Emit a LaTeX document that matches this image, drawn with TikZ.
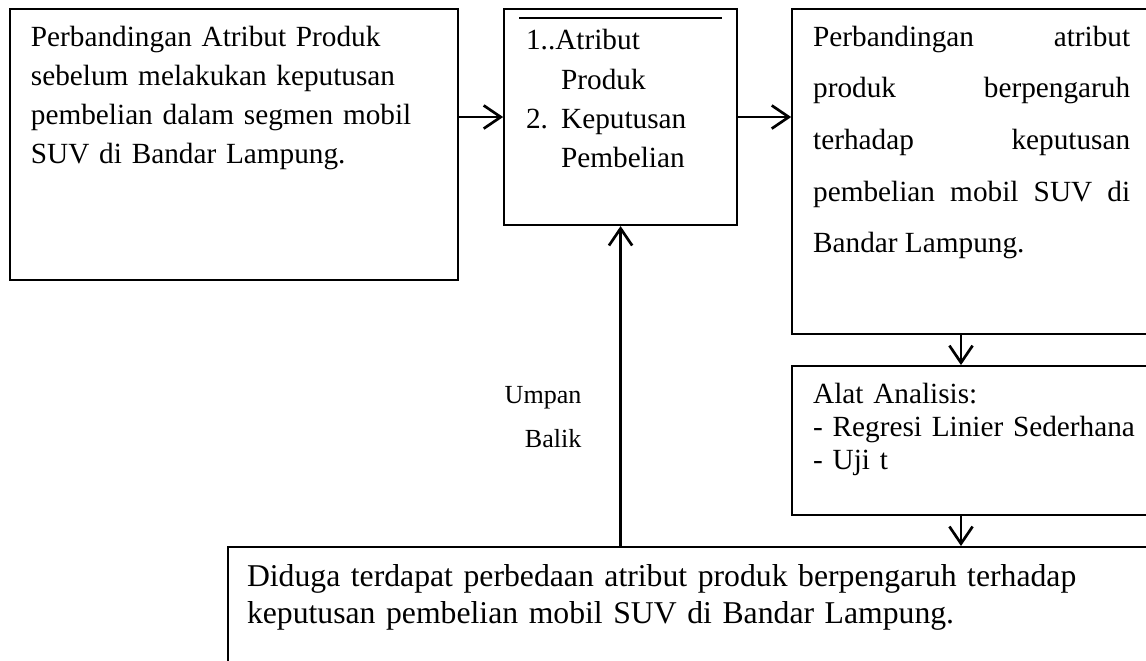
\documentclass[tikz,border=0pt]{standalone}
\usepackage{fontspec}
\setmainfont{Liberation Serif}
\usetikzlibrary{arrows.meta,positioning}

\begin{document}
\begin{tikzpicture}[
    x=0.41pt, y=-0.41pt,
    box/.style={draw, line width=0.8pt, anchor=north west, align=left,
                inner ysep=0pt, inner xsep=8.6pt,
                font=\fontsize{12}{16}\selectfont},
    flow/.style={-{Straight Barb[length=7pt,width=9.5pt]}, line width=1.1pt},
  ]
    \path[use as bounding box] (0,0) rectangle (1146,661);
    \clip (0,0) rectangle (1146,661);

    % ---- top row ----
    \node[box, text width=166.5pt, text height=15.2pt, text depth=95.9pt] (lft) at (9,8)
        {Perbandingan Atribut Produk sebelum melakukan keputusan pembelian dalam segmen mobil SUV di Bandar Lampung.};
    \node[box, right=18.1pt of lft.north east, anchor=north west, inner xsep=9pt,
          text width=77.5pt, text height=16.8pt, text depth=71.8pt,
          font=\fontsize{12}{16.1}\selectfont] (mid)
        {1..Atribut\\\hspace*{14.4pt}Produk\\\makebox[14.4pt][l]{2.}Keputusan\\\hspace*{14.4pt}Pembelian};
    \node[box, right=21.8pt of mid.north east, anchor=north west, align=justify,
          text width=130pt, text height=15.2pt, text depth=118.1pt,
          font=\fontsize{12}{21.2}\selectfont] (hasil)
        {\hyphenchar\font=-1\relax
         Perbandingan atribut produk berpengaruh terhadap keputusan pembelian mobil SUV di\linebreak Bandar Lampung.};

    % ---- right column and bottom ----
    \node[box, below=12.3pt of hasil.south west, anchor=north west,
          text width=135pt, text height=15.2pt, text depth=45.9pt,
          font=\fontsize{12}{13.7}\selectfont] (alat)
        {Alat Analisis:\\- Regresi Linier Sederhana\\- Uji t};
    \node[box, inner xsep=7.8pt, text width=368pt, text height=16pt, text depth=44pt,
          font=\fontsize{13}{15.2}\selectfont] (hyp) at (227,546)
        {Diduga terdapat perbedaan atribut produk berpengaruh terhadap keputusan pembelian mobil SUV di Bandar Lampung.};
    \node[align=right, inner sep=0pt, anchor=north east,
          font=\fontsize{10.7}{18}\selectfont] (umpan) at (582,386) {Umpan\\Balik};

    \draw[line width=0.5pt] ([xshift=6.6pt,yshift=-4.1pt]mid.north west) -- ([xshift=-6.6pt,yshift=-4.1pt]mid.north east);

    \coordinate (ax) at (961,0);
    \draw[flow] (lft.east |- mid.west) -- (mid.west);
    \draw[flow] (mid.east) -- (mid.east -| hasil.west);
    \draw[flow] (hasil.south -| ax) -- (alat.north -| ax);
    \draw[flow] (alat.south -| ax) -- (hyp.north -| ax);
    \draw[flow] (mid.south |- hyp.north) -- (mid.south);
\end{tikzpicture}
\end{document}
